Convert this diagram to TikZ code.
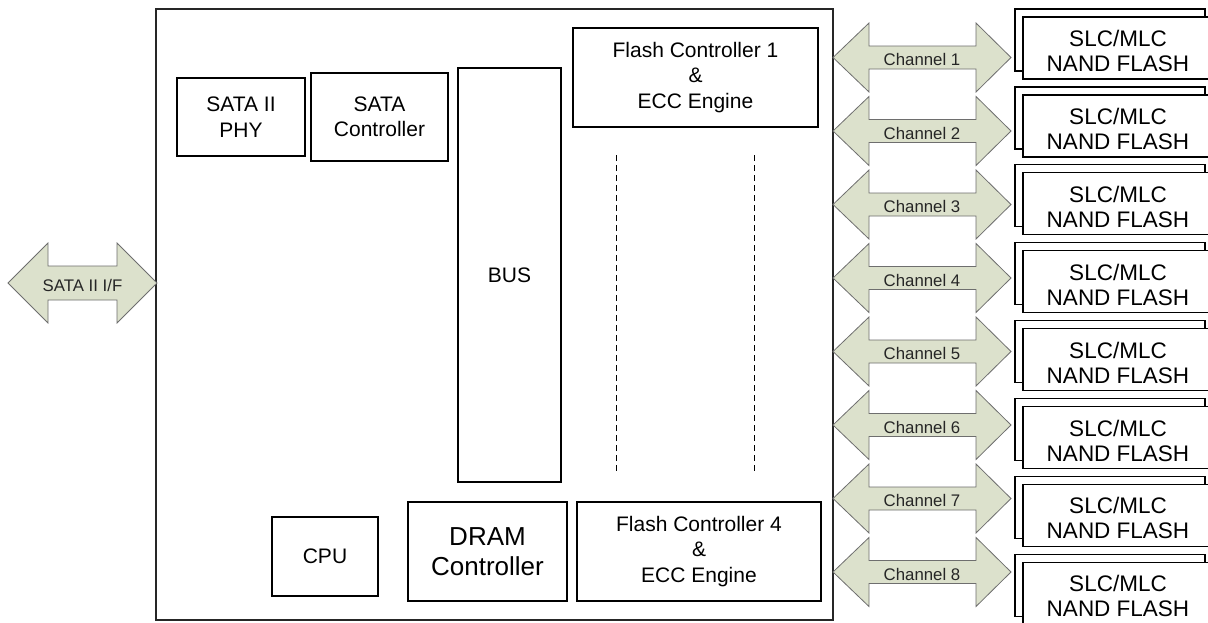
\documentclass[tikz,border=0pt]{standalone}
\usepackage{fontspec}
\setmainfont{Liberation Sans}
\definecolor{chanfill}{RGB}{220,225,204}
\definecolor{chanline}{RGB}{110,110,110}

\tikzset{
  blk/.style={draw=black,line width=1.2pt,fill=white,align=center,inner sep=0pt,
    font=\fontsize{21}{25.5}\selectfont},
  flashbox/.style={draw=black,line width=1.2pt,fill=white,minimum width=190pt,minimum height=62pt},
  nandtext/.style={align=center,inner sep=0pt,font=\fontsize{22.5}{25}\selectfont},
  chan/.style={draw=chanline,line width=0.8pt,fill=chanfill},
  chlabel/.style={inner sep=0pt,text=black!85,font=\fontsize{16.8}{19}\selectfont},
}

\begin{document}
\begin{tikzpicture}[x=1pt,y=-1pt]
    \useasboundingbox[fill=white] (0,0) rectangle (1208,622);

    % chip outline
    \node[draw=black!85,line width=1.2pt,minimum width=677pt,minimum height=611pt,inner sep=0pt] (chip) at (494.5,314.5) {};

    % blocks inside the chip
    \node[blk,minimum width=128pt,minimum height=78pt] (phy) at (241,117) {SATA II\\PHY};
    \node[blk,minimum width=137pt,minimum height=88pt] (satactrl) at (379.5,117) {SATA\\Controller};
    \node[blk,minimum width=103pt,minimum height=414pt] (bus) at (509.5,275) {BUS};
    \node[blk,minimum width=245pt,minimum height=99pt] (fc1) at (695.5,77.5) {Flash Controller 1\\\&\\ECC Engine};
    \node[blk,minimum width=244pt,minimum height=99pt] (fc4) at (699,551.5) {Flash Controller 4\\\&\\ECC Engine};
    \node[blk,minimum width=106pt,minimum height=79pt] (cpu) at (325,556.5) {CPU};
    \node[blk,minimum width=159pt,minimum height=99pt,font=\fontsize{26}{30}\selectfont] (dram) at (487.5,551.5) {DRAM\\Controller};

    % dots between the flash controllers
    \coordinate (dl1) at (616,155);
    \coordinate (dl2) at (616,472);
    \coordinate (dr1) at (754,155);
    \coordinate (dr2) at (754,472);
    \draw[dashed,line width=0.9pt,dash pattern=on 6pt off 4pt] (dl1) -- (dl2);
    \draw[dashed,line width=0.9pt,dash pattern=on 6pt off 4pt] (dr1) -- (dr2);

    % host interface
    \draw[chan] (8,283) -- (48,243) -- (48,266) -- (117,266) -- (117,243) -- (157,283)
      -- (117,323) -- (117,300) -- (48,300) -- (48,323) -- cycle;
    \node[chlabel] (sataif) at (82.5,285) {SATA II I/F};

    % channels and flash packages
    \foreach \i in {1,...,8} {
      \pgfmathsetmacro{\yc}{57.5+73.5*(\i-1)}
      \pgfmathsetmacro{\yf}{40+77.9*(\i-1)}
      \draw[chan] (833,\yc) -- (869,\yc-34.5) -- (869,\yc-11.5) -- (976,\yc-11.5) -- (976,\yc-34.5)
        -- (1011,\yc) -- (976,\yc+34.5) -- (976,\yc+11.5) -- (869,\yc+11.5) -- (869,\yc+34.5) -- cycle;
      \node[chlabel] (ch\i) at (922,\yc+2) {Channel \i};
      \node[flashbox] (back\i) at (1110,\yf) {};
      \node[flashbox] (nand\i) at (1118,\yf+8) {};
      \node[nandtext] (nandtxt\i) at ([yshift=-3pt]nand\i.center) {SLC/MLC\\NAND FLASH};
    }
  \end{tikzpicture}
\end{document}
